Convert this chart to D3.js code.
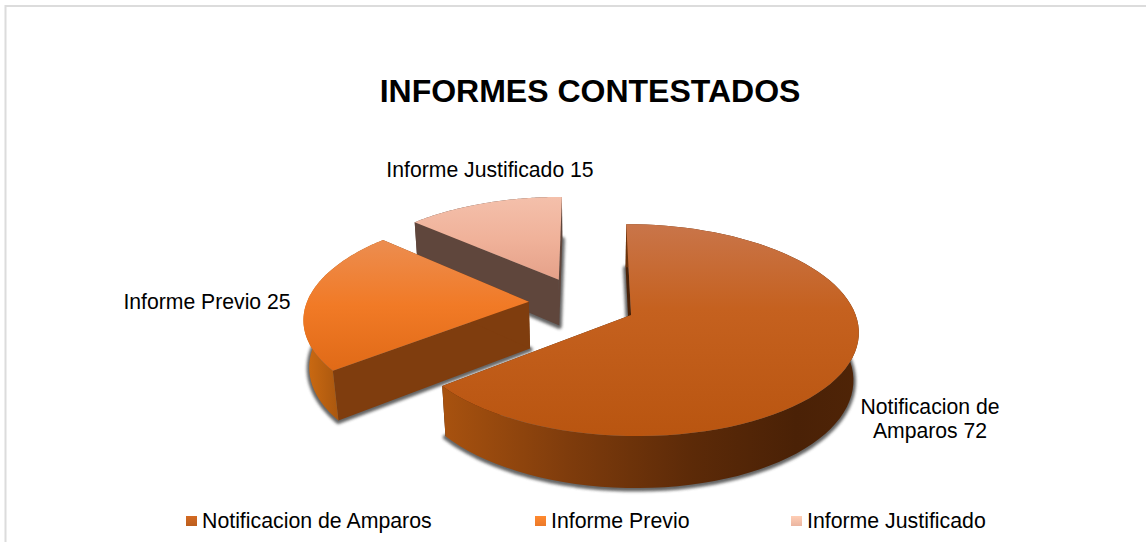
<!DOCTYPE html>
<html><head><meta charset="utf-8">
<script src="https://cdn.jsdelivr.net/npm/d3@7"></script>
<style>html,body{margin:0;padding:0;background:#fff}svg{display:block}text{font-family:"Liberation Sans",Arial,sans-serif;fill:#000}</style>
</head><body><div id="c"></div>
<script>
const categories=["Notificacion de Amparos","Informe Previo","Informe Justificado"];
const values=[72,25,15];
const titleText="INFORMES CONTESTADOS";
const explode=[0.193,0.285,0.30];
const nudge=[[1,1],[1,-3],[-6,1]];
const topStops=[[["0","#c9754a"],["0.4","#c5611f"],["1","#b95510"]],[["0","#ec8d50"],["0.5","#f17a26"],["1","#e06a17"]],[["0","#f4c0ab"],["0.5","#f0b29a"],["1","#e5a189"]]];
const rimStops=[[["0","#a8520f"],["0.3","#7f3c0c"],["0.6","#5c2a08"],["0.85","#4a2106"],["1","#4f2407"]],[["0","#cf6c12"],["1","#a9570f"]],[["0","#5f463c"],["1","#5f463c"]]];
const radialFill=["#4a2106","#7f3d0e","#5f463c"];
const legendFill=["#c2611f","#f47d2b","#f3bca6"];
const W=1146,H=542,px=591,py=305.5,R=222,C=101.4,K=0.14,H3=47.8,M=0.02;
const svg=d3.select("#c").append("svg").attr("width",W).attr("height",H);
const defs=svg.append("defs");
const blur=defs.append("filter").attr("id","blur").attr("x","-10%").attr("y","-10%").attr("width","120%").attr("height","120%");
blur.append("feGaussianBlur").attr("stdDeviation",1.8);
svg.append("path").attr("d",`M5.5 542V6H1146`).attr("fill","none").attr("stroke","#dcdcdc").attr("stroke-width",2);
svg.append("text").attr("x",590).attr("y",102).attr("text-anchor","middle").attr("font-size",32).attr("font-weight","bold").text(titleText);
const arcs=d3.pie().sort(null).value(d=>d)(values);
function proj(a,b,z){const w=1-K*b+M*z;return [px+a*R/w,py+(b*C+z*H3)/w];}
const line=d3.line();
function gradient(id,stops,x1,y1,x2,y2){const g=defs.append("linearGradient").attr("id",id).attr("gradientUnits","userSpaceOnUse").attr("x1",x1).attr("y1",y1).attr("x2",x2).attr("y2",y2);stops.forEach(s=>g.append("stop").attr("offset",s[0]).attr("stop-color",s[1]));}
const shadows=svg.append("g"),solids=svg.append("g");
const order=[2,1,0];
order.forEach(i=>{
  const d=arcs[i],mid=(d.startAngle+d.endAngle)/2;
  const ox=Math.sin(mid)*explode[i],oy=-Math.cos(mid)*explode[i];
  const n=80,ts=d3.range(n+1).map(j=>d.startAngle+(d.endAngle-d.startAngle)*j/n);
  const pt=(t,z)=>proj(ox+Math.sin(t),oy-Math.cos(t),z),ap=z=>proj(ox,oy,z);
  const topPts=[ap(0),...ts.map(t=>pt(t,0))],botPts=[ap(1),...ts.map(t=>pt(t,1))];
  const xs=ts.map(t=>pt(t,0)[0]),ys=topPts.map(p=>p[1]);
  shadows.append("path").attr("d",line(botPts)+"Z").attr("fill","#4a4a4a").attr("stroke","#4a4a4a").attr("stroke-width",5).attr("stroke-linejoin","round").attr("opacity",.85).attr("filter","url(#blur)").attr("transform",`translate(${nudge[i][0]},${nudge[i][1]+1})`);
  const g=solids.append("g").attr("transform",`translate(${nudge[i]})`);
  const wall=(t)=>[ap(0),pt(t,0),pt(t,1),ap(1)];
  [d.startAngle,d.endAngle].forEach(t=>g.append("path").attr("d",line(wall(t))+"Z").attr("fill",radialFill[i]));
  gradient("rim"+i,rimStops[i],d3.min(xs),0,i==1?pt(d.startAngle,0)[0]+6:d3.max(xs),0);
  g.append("path").attr("d",line([...ts.map(t=>pt(t,0)),...ts.slice().reverse().map(t=>pt(t,1))])+"Z").attr("fill",`url(#rim${i})`);
  gradient("top"+i,topStops[i],0,d3.min(ys),0,d3.max(ys));
  g.append("path").attr("d",line(topPts)+"Z").attr("fill",`url(#top${i})`);
});
const labelLines=[[categories[0].replace(" Amparos",""),"Amparos "+values[0]],[categories[1]+" "+values[1]],[categories[2]+" "+values[2]]];
const labelPos=[[930,414],[207,309],[490,177]];
labelLines.forEach((ls,i)=>ls.forEach((s,j)=>svg.append("text").attr("x",labelPos[i][0]).attr("y",labelPos[i][1]+j*24).attr("text-anchor","middle").attr("font-size",21.2).text(s)));
const legX=[186,535,791];
categories.forEach((c,i)=>{
  gradient("leg"+i,[["0",d3.color(legendFill[i]).brighter(.25)],["1",d3.color(legendFill[i]).darker(.1)]],0,516,0,526);
  svg.append("rect").attr("x",legX[i]).attr("y",516).attr("width",11).attr("height",10).attr("fill",`url(#leg${i})`);
  svg.append("text").attr("x",legX[i]+16).attr("y",528).attr("font-size",21.3).text(c);
});
</script></body></html>
